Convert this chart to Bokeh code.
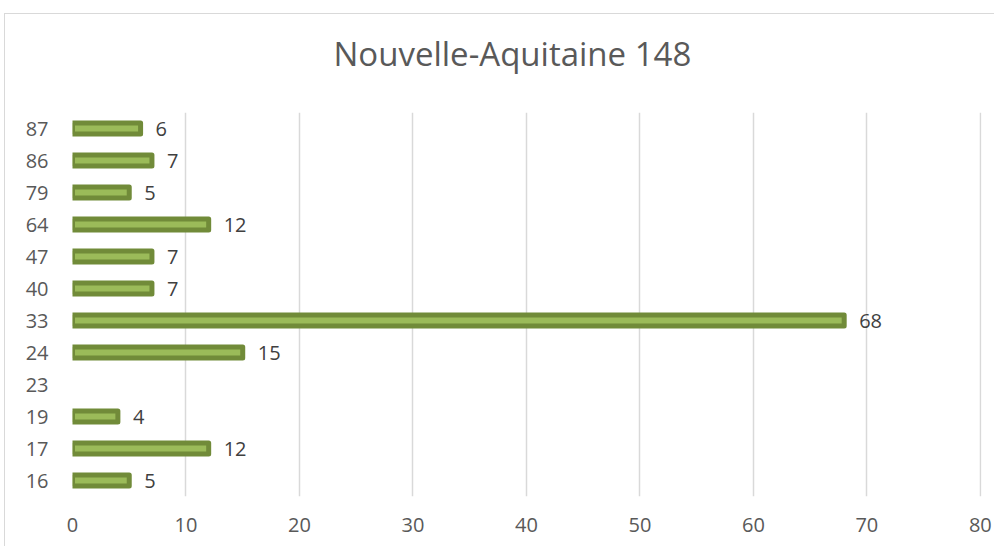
from bokeh.plotting import figure
from bokeh.models import ColumnDataSource, FixedTicker, Title
from bokeh.core.properties import value
from bokeh.embed import file_html
from bokeh.resources import INLINE

categories = ["16", "17", "19", "23", "24", "33", "40", "47", "64", "79", "86", "87"]
counts = [5, 12, 4, 0, 15, 68, 7, 7, 12, 5, 7, 6]
x_ticks = [0, 10, 20, 30, 40, 50, 60, 70, 80]
title_text = "Nouvelle-Aquitaine 148"

shown = [(c, v) for c, v in zip(categories, counts) if v > 0]
src = ColumnDataSource(dict(cat=[c for c, v in shown], val=[v for c, v in shown],
                            lab=[str(v) for c, v in shown]))

FONT = "Open Sans"
p = figure(y_range=categories, x_range=(0, 80.1), width=990, height=533,
           output_backend="svg", toolbar_location=None,
           min_border_left=67, min_border_right=14, min_border_top=98, min_border_bottom=51)
p.styles = {"margin-top": "13px", "margin-left": "4px",
            "border-top": "1px solid #d9d9d9", "border-left": "1px solid #d9d9d9"}
p.outline_line_color = None

# invisible spacer between the frame and the chart title
spacer = Title(text=" ", text_font_size="1px", standoff=34)
p.add_layout(spacer, "above")
t = Title(text=title_text, align="left", vertical_align="bottom", text_font=FONT,
          text_font_size="33px", text_color="#595959", text_font_style="normal",
          offset=261, standoff=0)
p.add_layout(t, "above")

p.hbar(y="cat", right="val", left=0, height=0.34, source=src,
       fill_color="#9BBB59", line_color="#718B39", line_width=5, line_join="round")
p.text(x="val", y="cat", text="lab", source=src, x_offset=15, text_baseline="middle",
       text_align="left", text_font=value(FONT), text_font_size="20px", text_color="#404040")

p.xaxis.ticker = FixedTicker(ticks=x_ticks)
p.xgrid.ticker = FixedTicker(ticks=x_ticks)
p.xgrid.grid_line_color = "#d9d9d9"
p.xgrid.grid_line_width = 1.5
p.ygrid.grid_line_color = None
for ax in (p.xaxis, p.yaxis):
    ax.axis_line_color = None
    ax.major_tick_line_color = None
    ax.minor_tick_line_color = None
    ax.major_label_text_font = FONT
    ax.major_label_text_font_size = "20px"
    ax.major_label_text_color = "#595959"
p.xaxis.major_label_standoff = 15
p.yaxis.major_label_standoff = 18

open("out.html", "w").write(file_html(p, INLINE))
